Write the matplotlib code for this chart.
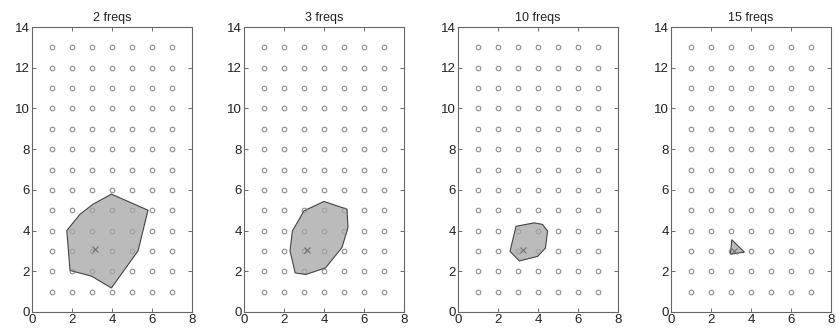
import matplotlib
matplotlib.use("Agg")
import matplotlib.pyplot as plt
import numpy as np

plt.rcParams['font.family'] = ['Liberation Sans', 'DejaVu Sans']

titles = ["2 freqs", "3 freqs", "10 freqs", "15 freqs"]

grid_x = [1, 2, 3, 4, 5, 6, 7]
grid_y = [1, 2, 3, 4, 5, 6, 7, 8, 9, 10, 11, 12, 13]

poly_2_x = [3.97, 5.8, 5.3, 3.97, 2.98, 1.9, 1.74, 2.4, 3.06]
poly_2_y = [5.79, 5.0, 3.0, 1.18, 1.76, 2.04, 4.0, 4.8, 5.3]

poly_3_x = [4.0, 5.15, 5.2, 4.9, 4.08, 3.09, 2.56, 2.3, 2.42, 3.0]
poly_3_y = [5.43, 5.05, 4.15, 3.17, 2.17, 1.84, 1.92, 3.0, 3.98, 4.97]

poly_10_x = [2.9, 3.82, 4.23, 4.48, 4.37, 3.98, 3.07, 2.6]
poly_10_y = [4.21, 4.38, 4.3, 3.97, 3.14, 2.73, 2.51, 2.98]

poly_15_x = [3.04, 3.67, 2.97]
poly_15_y = [3.55, 2.94, 2.84]

est_x = [3.15, 3.17, 3.24, 3.17]
est_y = [3.08, 3.07, 3.06, 3.0]

polys = [(poly_2_x, poly_2_y), (poly_3_x, poly_3_y),
         (poly_10_x, poly_10_y), (poly_15_x, poly_15_y)]

fig = plt.figure(figsize=(8.37, 3.34), dpi=100)
lefts = [32, 244, 458, 671]
W, H = 837.0, 334.0
gx, gy = np.meshgrid(grid_x, grid_y)
for i in range(4):
    ax = fig.add_axes([lefts[i] / W, 22 / H, 160 / W, 285 / H])
    ax.plot(gx.ravel(), gy.ravel(), 'o', mfc='none', mec='#9a9a9a',
            ms=3.3, mew=0.7, zorder=1)
    px, py = polys[i]
    ax.fill(px, py, facecolor='#bbbbbb', edgecolor='#444444', lw=0.8,
            zorder=2)
    ax.plot(gx.ravel(), gy.ravel(), 'o', mfc='none', mec='#808080',
            ms=3.3, mew=0.7, zorder=3, alpha=0.5)
    ax.plot([est_x[i]], [est_y[i]], 'x', color='#707070', ms=5, mew=0.8,
            zorder=4)
    ax.set_xlim(0, 8)
    ax.set_ylim(0, 14)
    ax.set_xticks([0, 2, 4, 6, 8])
    ax.set_yticks([0, 2, 4, 6, 8, 10, 12, 14])
    ax.tick_params(direction='in', top=True, right=True, length=3,
                   width=0.6, color='#555555', labelsize=9.5,
                   labelcolor='#222222', pad=1.5)
    for s in ax.spines.values():
        s.set_color('#666666')
        s.set_linewidth(0.8)
    ax.set_title(titles[i], fontsize=9, color='#222222', pad=4)

fig.savefig("out.png", dpi=100)
